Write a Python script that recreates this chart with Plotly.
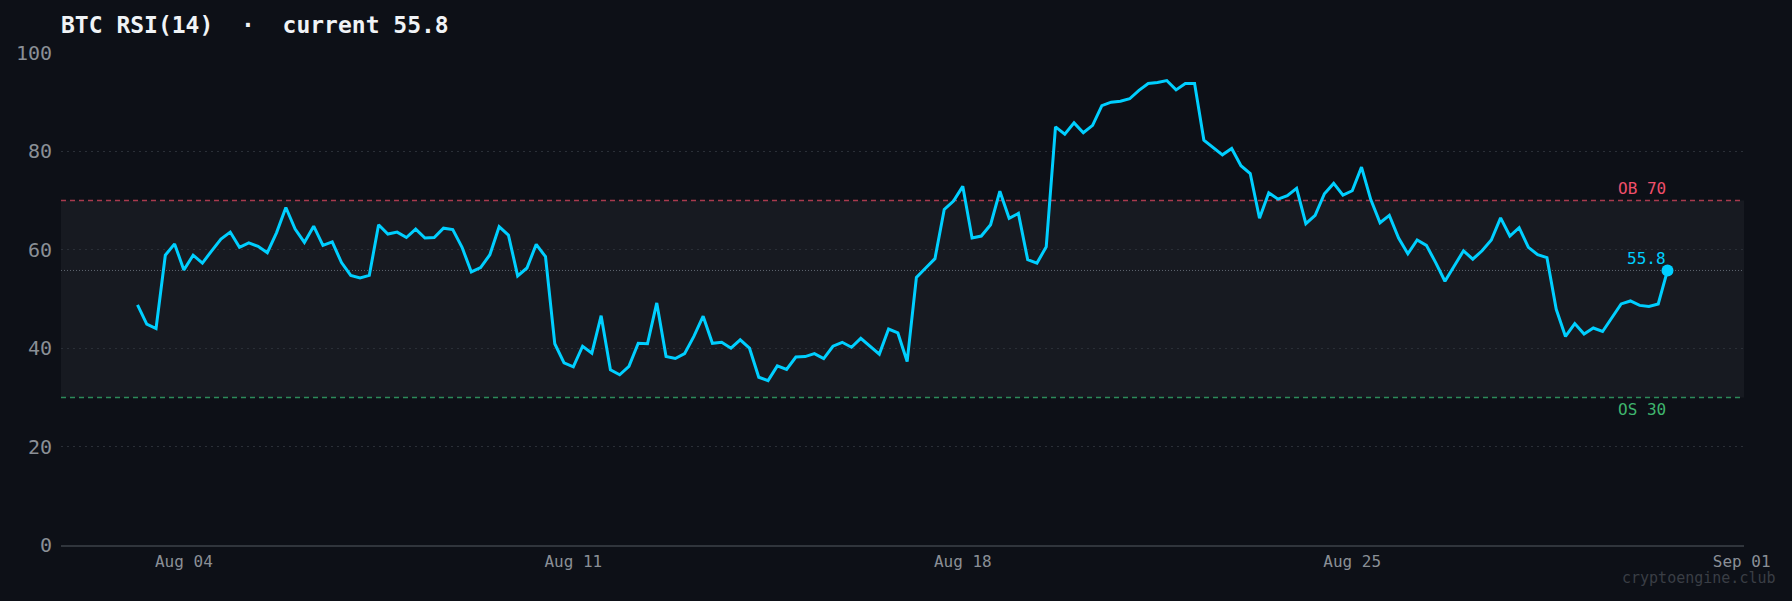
import pandas as pd
import plotly.graph_objects as go

# RSI(14) on 4h candles
start_time = "2024-08-03 04:00"
rsi_values = [
    48.8, 44.9, 44.0, 58.9, 61.2, 55.9, 58.9, 57.3, 59.8, 62.2,
    63.6, 60.5, 61.4, 60.7, 59.4, 63.5, 68.6, 64.2, 61.5, 64.8,
    60.9, 61.6, 57.4, 54.8, 54.3, 54.8, 65.1, 63.2, 63.6, 62.5,
    64.2, 62.4, 62.5, 64.4, 64.1, 60.5, 55.5, 56.4, 59.0, 64.7,
    63.0, 54.7, 56.3, 61.1, 58.6, 40.9, 37.0, 36.2, 40.4, 39.0,
    46.6, 35.6, 34.6, 36.3, 41.0, 40.9, 49.2, 38.3, 37.9, 38.9,
    42.4, 46.5, 41.0, 41.2, 40.0, 41.7, 40.0, 34.1, 33.4, 36.4,
    35.7, 38.2, 38.3, 38.9, 37.9, 40.4, 41.2, 40.2, 42.0, 40.3,
    38.8, 43.9, 43.1, 37.3, 54.4, 56.3, 58.2, 68.2, 69.9, 72.9,
    62.4, 62.8, 65.1, 71.9, 66.4, 67.4, 58.0, 57.3, 60.6, 85.0,
    83.5, 85.8, 83.8, 85.3, 89.3, 90.0, 90.2, 90.7, 92.4, 93.8,
    94.0, 94.4, 92.5, 93.8, 93.8, 82.3, 80.8, 79.3, 80.6, 77.1,
    75.5, 66.4, 71.6, 70.3, 71.0, 72.5, 65.3, 67.0, 71.4, 73.5,
    71.1, 72.0, 76.8, 70.2, 65.5, 67.0, 62.4, 59.2, 62.0, 60.9,
    57.4, 53.6, 56.7, 59.8, 58.1, 59.8, 62.0, 66.5, 62.8, 64.5,
    60.5, 59.0, 58.4, 47.9, 42.4, 45.0, 42.9, 44.1, 43.4, 46.1,
    49.0, 49.6, 48.7, 48.5, 49.0, 55.8,
]
tick_dates = ["2024-08-04", "2024-08-11", "2024-08-18", "2024-08-25", "2024-09-01"]
tick_labels = ["Aug 04", "Aug 11", "Aug 18", "Aug 25", "Sep 01"]
overbought = 70
oversold = 30

times = pd.date_range(start=start_time, periods=len(rsi_values), freq="4h")
current = rsi_values[-1]
last_time = times[-1]

BG = "#0d1017"
MONO = "DejaVu Sans Mono"
CYAN = "#00cfff"

fig = go.Figure()

fig.add_trace(go.Scatter(x=times, y=rsi_values, mode="lines",
                         line=dict(color=CYAN, width=3), hoverinfo="skip",
                         showlegend=False))
fig.add_trace(go.Scatter(x=[last_time], y=[current], mode="markers",
                         marker=dict(color=CYAN, size=12), hoverinfo="skip",
                         showlegend=False))

# neutral zone band + levels
fig.add_shape(type="rect", xref="paper", x0=0, x1=1, y0=oversold, y1=overbought,
              fillcolor="#171a21", line_width=0, layer="between")
fig.add_shape(type="line", xref="paper", x0=0, x1=1, y0=overbought, y1=overbought,
              line=dict(color="#a83a4e", width=1.5, dash="5px,4px"), layer="between")
fig.add_shape(type="line", xref="paper", x0=0, x1=1, y0=oversold, y1=oversold,
              line=dict(color="#2c8a5a", width=1.5, dash="5px,4px"), layer="between")
fig.add_shape(type="line", xref="paper", x0=0, x1=1, y0=current, y1=current,
              line=dict(color="#5f6670", width=1, dash="1px,2px"), layer="between")

fig.add_annotation(x=last_time, y=overbought, text=f"OB {overbought}", showarrow=False,
                   xanchor="right", yanchor="bottom", yshift=1,
                   font=dict(family=MONO, size=16, color="#f04f6b"))
fig.add_annotation(x=last_time, y=oversold, text=f"OS {oversold}", showarrow=False,
                   xanchor="right", yanchor="top", yshift=-1,
                   font=dict(family=MONO, size=16, color="#3fb56e"))
fig.add_annotation(x=last_time, y=current, text=f"{current:.1f}", showarrow=False,
                   xanchor="right", yanchor="bottom", yshift=0,
                   font=dict(family=MONO, size=16, color=CYAN))
fig.add_annotation(xref="paper", yref="paper", x=1, y=0, xshift=34, yshift=-33,
                   text="cryptoengine.club", showarrow=False,
                   xanchor="right", yanchor="middle",
                   font=dict(family=MONO, size=15, color="#3a3e45"))

fig.update_layout(
    width=1792, height=601,
    paper_bgcolor=BG, plot_bgcolor=BG,
    margin=dict(l=61, r=48, t=53, b=56),
    title=dict(text=f"<b>BTC RSI(14)  ·  current {current:.1f}</b>",
               x=61 / 1792, xanchor="left", xref="container",
               y=1 - 25 / 601, yanchor="middle", yref="container",
               font=dict(family=MONO, size=23, color="#f0f3f6")),
    xaxis=dict(range=["2024-08-01 19:00", "2024-09-01 01:00"],
               tickvals=tick_dates, ticktext=tick_labels,
               showgrid=False, zeroline=False,
               showline=True, linecolor="#30353c", linewidth=1.5,
               ticks="", ticklabelstandoff=1,
               tickfont=dict(family=MONO, size=16, color="#8a8f96")),
    yaxis=dict(range=[0, 100], tickvals=[0, 20, 40, 60, 80, 100],
               showgrid=True, gridcolor="#2a2f37", gridwidth=1, griddash="2px,4px",
               zeroline=False, showline=False, ticks="", ticklabelstandoff=8,
               tickfont=dict(family=MONO, size=20, color="#8a8f96")),
)

fig.write_html("out.html", config={"displayModeBar": False},
               post_script="document.body.style.margin='0';document.body.style.background='%s';" % BG)
